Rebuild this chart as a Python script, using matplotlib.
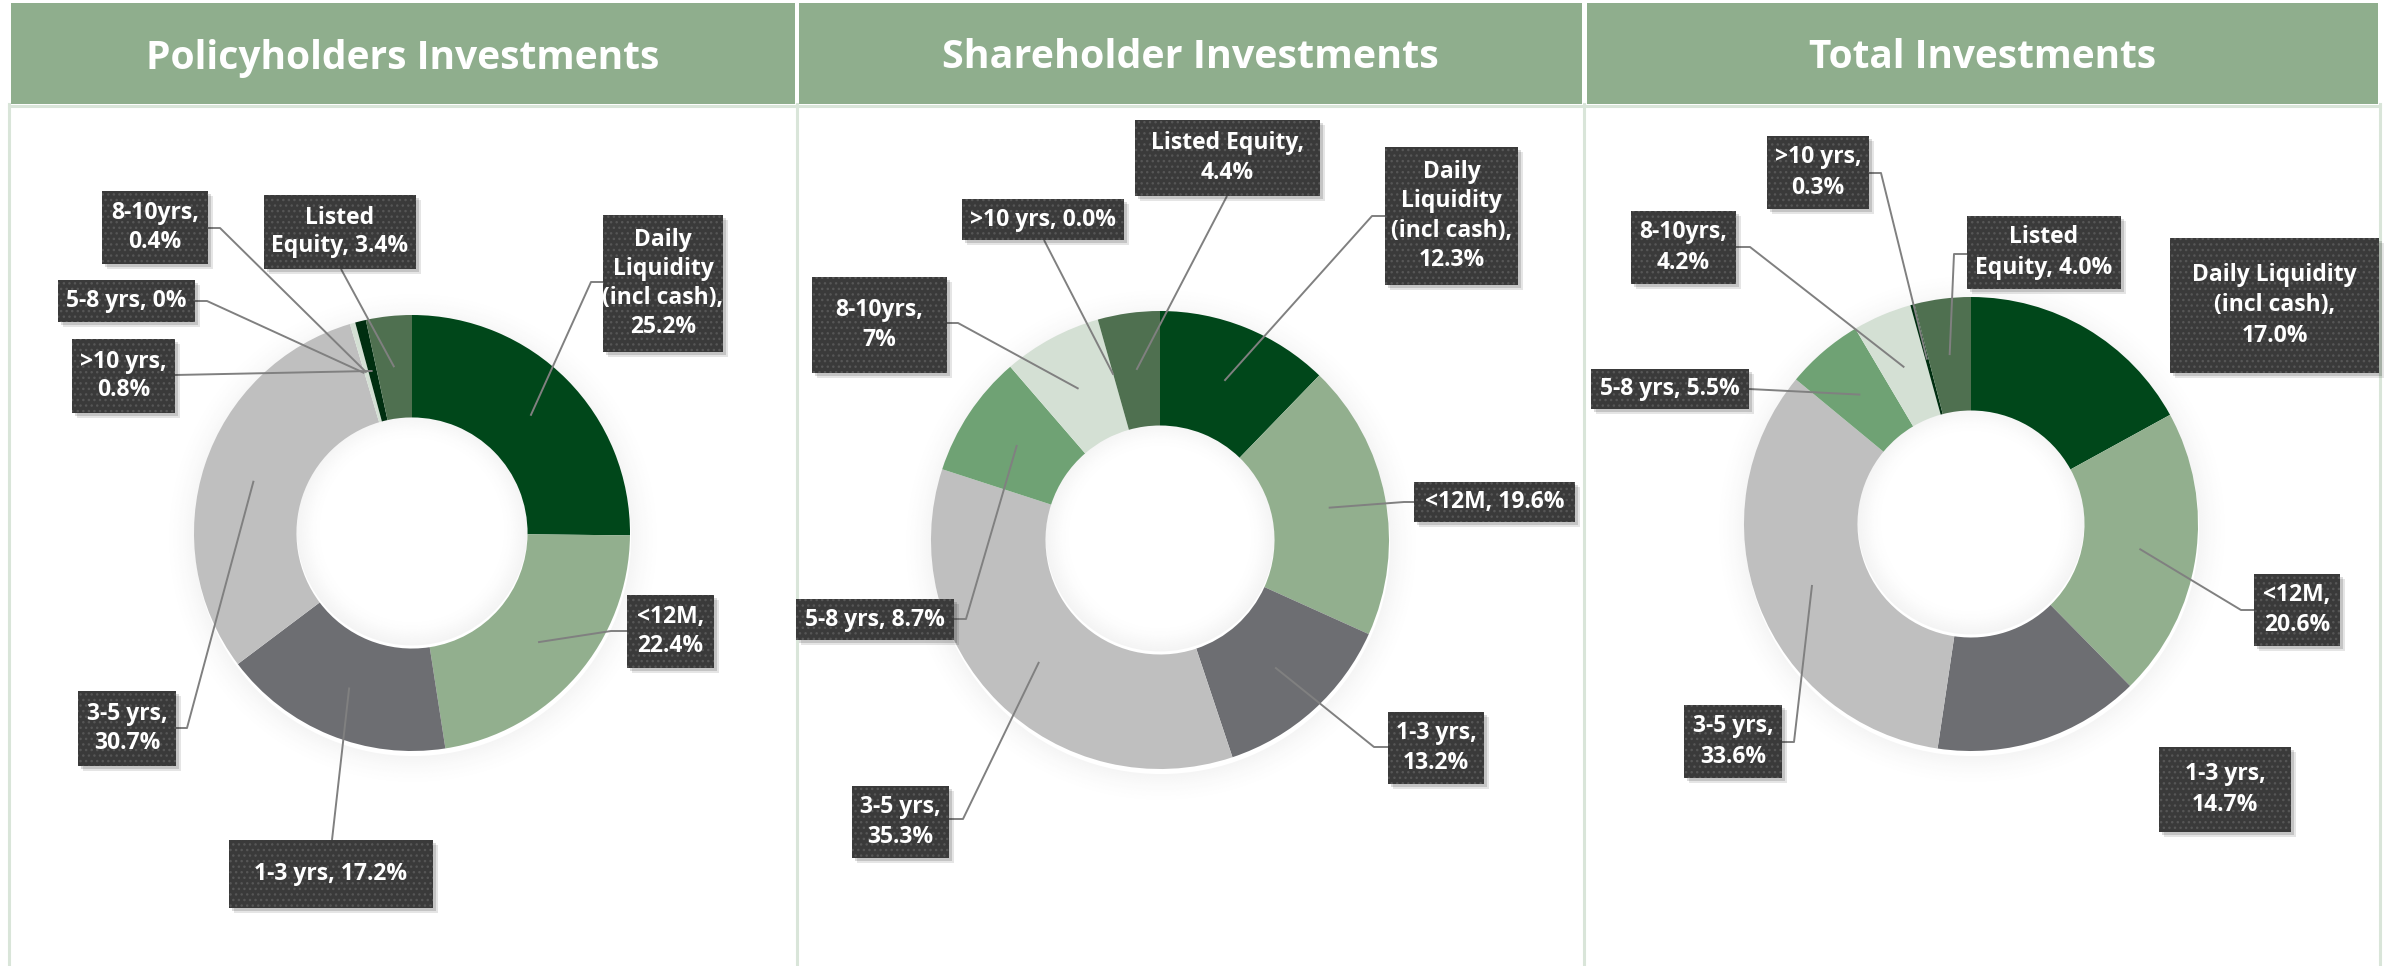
import matplotlib
matplotlib.use("Agg")
import matplotlib.pyplot as plt
from matplotlib.patches import Rectangle, Wedge
import numpy as np

W, H = 2391, 966

# --- data -------------------------------------------------------------
categories = ["Daily Liquidity (incl cash)", "<12M", "1-3 yrs", "3-5 yrs",
              "5-8 yrs", "8-10yrs", ">10 yrs", "Listed Equity"]

policyholders = [25.2, 22.4, 17.2, 30.7, 0.0, 0.4, 0.8, 3.4]
shareholder = [12.3, 19.6, 13.2, 35.3, 8.7, 7.0, 0.0, 4.4]
total = [17.0, 20.6, 14.7, 33.6, 5.5, 4.2, 0.3, 4.0]

titles = ["Policyholders Investments", "Shareholder Investments", "Total Investments"]

policy_labels = ["Daily\nLiquidity\n(incl cash),\n25.2%", "<12M,\n22.4%", "1-3 yrs, 17.2%",
                 "3-5 yrs,\n30.7%", "5-8 yrs, 0%", "8-10yrs,\n0.4%", ">10 yrs,\n0.8%",
                 "Listed\nEquity, 3.4%"]
share_labels = ["Daily\nLiquidity\n(incl cash),\n12.3%", "<12M, 19.6%", "1-3 yrs,\n13.2%",
                "3-5 yrs,\n35.3%", "5-8 yrs, 8.7%", "8-10yrs,\n7%", ">10 yrs, 0.0%",
                "Listed Equity,\n4.4%"]
total_labels = ["Daily Liquidity\n(incl cash),\n17.0%", "<12M,\n20.6%", "1-3 yrs,\n14.7%",
                "3-5 yrs,\n33.6%", "5-8 yrs, 5.5%", "8-10yrs,\n4.2%", ">10 yrs,\n0.3%",
                "Listed\nEquity, 4.0%"]

# --- style / layout (pixels, y measured from top) ----------------------
colors = ["#00471A", "#92AF8E", "#6D6E72", "#BFBFBF",
          "#6FA274", "#D4E0D4", "#002E10", "#4F7050"]
header_col = "#8FAE8D"
border_col = "#D9E5D9"
box_col = "#3A3A3A"
line_col = "#808080"
FONT = "Open Sans"

panels = [
    dict(values=policyholders, labels=policy_labels, title=titles[0], title_w=514,
         x0=11, x1=795, center=(412, 533), r=218, hole=0.53, size=16.5, pitch=30.5,
         boxes=[(603, 215, 723, 352), (627, 595, 714, 668), (229, 840, 433, 908),
                (78, 691, 176, 766), (58, 280, 195, 322), (102, 191, 208, 264),
                (72, 339, 175, 413), (264, 195, 416, 269)],
         leaders=[[(603, 282), (591, 282)], [(627, 631), (611, 631)], [(332, 840)],
                  [(176, 728), (187, 728)], [(195, 301), (207, 301)], [(208, 228), (220, 228)],
                  [(175, 375)], [(341, 269)]]),
    dict(values=shareholder, labels=share_labels, title=titles[1], title_w=495,
         x0=799, x1=1582, center=(1160, 540), r=229, hole=0.5, size=16.5, pitch=31.5,
         boxes=[(1385, 147, 1518, 285), (1414, 482, 1575, 522), (1388, 712, 1484, 784),
                (852, 786, 949, 858), (796, 599, 954, 640), (812, 277, 947, 373),
                (962, 199, 1124, 240), (1135, 120, 1320, 196)],
         leaders=[[(1385, 216), (1372, 216)], [(1414, 502), (1404, 502)],
                  [(1388, 747), (1374, 747)], [(949, 819), (963, 819)],
                  [(954, 619), (966, 619)], [(947, 323), (958, 323)],
                  [(1044, 240)], [(1227, 196)]]),
    dict(values=total, labels=total_labels, title=titles[2], title_w=347,
         x0=1587, x1=2378, center=(1971, 524), r=227, hole=0.5, size=16.5, pitch=33,
         boxes=[(2170, 238, 2379, 373), (2254, 574, 2340, 646), (2159, 747, 2291, 832),
                (1684, 705, 1782, 778), (1591, 369, 1749, 409), (1631, 211, 1736, 284),
                (1767, 136, 1869, 209), (1967, 216, 2121, 289)],
         leaders=[None, [(2254, 610), (2241, 610)], None,
                  [(1782, 742), (1794, 742)], [(1749, 389)], [(1736, 247), (1750, 247)],
                  [(1869, 173), (1881, 173)], [(1967, 254), (1954, 254)]]),
]

plt.rcParams["hatch.linewidth"] = 1.0

fig = plt.figure(figsize=(W / 100, H / 100), dpi=100)
ax = fig.add_axes([0, 0, 1, 1])
ax.set_xlim(0, W)
ax.set_ylim(0, H)
renderer = fig.canvas.get_renderer()


def fy(y):
    return H - y


def line_pitch(size):
    # distance between baselines at linespacing=1, measured on the renderer
    kw = dict(fontsize=size, family=FONT, fontweight="bold", linespacing=1.0)
    one = ax.text(0, 0, "lp", **kw)
    two = ax.text(0, 0, "lp\nlp", **kw)
    d = two.get_window_extent(renderer).height - one.get_window_extent(renderer).height
    one.remove()
    two.remove()
    return d


# panel frames + headers
for xb in [9, 797, 1584, 2380]:
    ax.plot([xb, xb], [0, fy(104)], color=border_col, lw=2.2, zorder=1)
for p in panels:
    ax.plot([p["x0"] - 2, p["x1"] + 2], [fy(106), fy(106)], color=border_col, lw=2.2, zorder=1)
    ax.add_patch(Rectangle((p["x0"], fy(104)), p["x1"] - p["x0"], 101,
                           fc=header_col, ec="none", zorder=2))
    t = ax.text((p["x0"] + p["x1"]) / 2, fy(58), p["title"], color="white", fontweight="bold",
                family=FONT, fontsize=28, ha="center", va="center", zorder=3)
    # scale title so it spans the same width as in the original
    w = t.get_window_extent(renderer).width
    t.set_fontsize(28 * p["title_w"] / w)

for p in panels:
    cx, cy = p["center"]
    r, hole = p["r"], p["hole"]
    rh = r * hole
    ls = p["pitch"] / line_pitch(p["size"])

    # soft outer shadow and inner shadow of the hole
    n = 14
    for k in range(n):
        a = 0.04 * (1 - k / n) ** 1.5
        ax.add_patch(Wedge((cx + 1, fy(cy) - 5), r + (k + 1) * 2.0, 0, 360, width=2.0,
                           fc="black", ec="none", alpha=a, zorder=3))
        ax.add_patch(Wedge((cx, fy(cy) + 3), rh - k * 1.8, 0, 360, width=1.8,
                           fc="black", ec="none", alpha=a * 1.1, zorder=3))

    wedges, _ = ax.pie(p["values"], center=(cx, fy(cy)), radius=r, startangle=90,
                       counterclock=False, colors=colors,
                       wedgeprops=dict(width=r * (1 - hole), linewidth=0))
    for w in wedges:
        w.set_zorder(4)

    rm = r * (1 + hole) / 2
    for w, lab, box, lead in zip(wedges, p["labels"], p["boxes"], p["leaders"]):
        x0, y0, x1, y1 = box
        if lead is not None:
            th = np.deg2rad((w.theta1 + w.theta2) / 2)
            end = (cx + rm * np.cos(th), fy(cy) + rm * np.sin(th))
            xs = [q[0] for q in lead] + [end[0]]
            ys = [fy(q[1]) for q in lead] + [end[1]]
            ax.plot(xs, ys, color=line_col, lw=1.4, zorder=6, solid_capstyle="butt")
        for off, a in [(5, 0.10), (3, 0.14)]:
            ax.add_patch(Rectangle((x0 + off, fy(y1) - off), x1 - x0, y1 - y0,
                                   fc="black", ec="none", alpha=a, zorder=7))
        ax.add_patch(Rectangle((x0, fy(y1)), x1 - x0, y1 - y0, fc=box_col,
                               ec="#565656", lw=0, hatch="...", zorder=8))
        ax.text((x0 + x1) / 2, fy((y0 + y1) / 2), lab, color="white", fontweight="bold",
                family=FONT, fontsize=p["size"], ha="center", va="center",
                linespacing=ls, zorder=9)

ax.set_xlim(0, W)
ax.set_ylim(0, H)
ax.set_aspect("auto")
ax.axis("off")

fig.savefig("out.png", dpi=100, facecolor="white")
